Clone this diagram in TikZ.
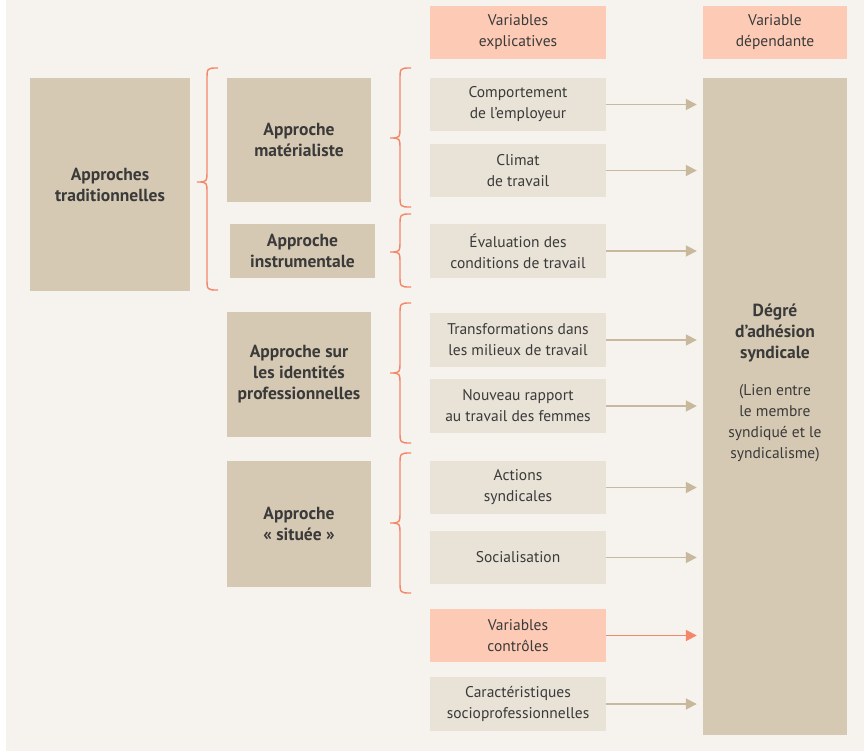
\documentclass[tikz,border=0pt]{standalone}
\usepackage{fontspec}
\setmainfont{PT Sans}
\usetikzlibrary{arrows.meta}
\definecolor{fond}{HTML}{F6F3EE}
\definecolor{tanfonce}{HTML}{D6C9B3}
\definecolor{beige}{HTML}{E8E2D7}
\definecolor{saumon}{HTML}{FDCBB5}
\definecolor{flechetan}{HTML}{C8B99E}
\definecolor{corail}{HTML}{F4876A}
\definecolor{texte}{HTML}{3A3A3A}
\newcommand{\policegras}{\bfseries\fontsize{17.5}{21}\selectfont}
\newcommand{\policetexte}{\mdseries\fontsize{15.5}{21}\selectfont}
\tikzset{
  approche/.style={fill=tanfonce, text=texte, inner sep=0pt, align=center,
    font=\policegras, minimum width=144pt},
  varbox/.style={fill=beige, text=texte, inner sep=0pt, align=center,
    font=\policetexte, minimum width=176pt, minimum height=53pt},
  entete/.style={varbox, fill=saumon},
  fleche/.style={-{Triangle[length=11pt,width=11pt]}, line width=1.8pt,
    draw=flechetan, shorten >=6pt},
  accolade/.style={draw=corail, line width=1.4pt}
}
% accolade: x de la pointe, haut, milieu, bas
\newcommand{\accolade}[4]{%
  \draw[accolade] ({#1+21},#2) .. controls ({#1+10},#2) .. ({#1+10},{#2+12})
    -- ({#1+10},{#3-12}) .. controls ({#1+10},#3) .. (#1,#3)
    .. controls ({#1+10},#3) .. ({#1+10},{#3+12})
    -- ({#1+10},{#4-12}) .. controls ({#1+10},#4) .. ({#1+21},#4);}
\begin{document}
\begin{tikzpicture}[x=1pt,y=-1pt]
\useasboundingbox (0,0) rectangle (864,751);
\fill[fond] (6,0) rectangle (864,751);

% approches
\node[approche, minimum width=160pt, minimum height=213pt] (trad) at (110,184.5) {Approches\\traditionnelles};
\node[approche, minimum height=124pt] (mat) at (299,140) {Approche\\matérialiste};
\node[approche, minimum width=145pt, minimum height=54pt] (instr) at (302.5,251) {Approche\\instrumentale};
\node[approche, minimum height=125pt] (ident) at (299,374.5) {Approche sur\\les identités\\professionnelles};
\node[approche, minimum height=126pt] (situee) at (299,524) {Approche\\«~située~»};

% variables
\node[entete] (hexp) at (518,32.5) {Variables\\explicatives};
\node[entete, minimum width=144pt] (hdep) at (775,32.5) {Variable\\dépendante};
\node[varbox] (comp) at (518,104.5) {Comportement\\de l’employeur};
\node[varbox] (climat) at (518,170.5) {Climat\\de travail};
\node[varbox, minimum height=54pt] (eval) at (518,251) {Évaluation des\\conditions de travail};
\node[varbox, minimum height=54pt] (transf) at (518,340) {Transformations dans\\les milieux de travail};
\node[varbox, minimum height=54pt] (nouveau) at (518,406) {Nouveau rapport\\au travail des femmes};
\node[varbox] (actions) at (518,487.5) {Actions\\syndicales};
\node[varbox] (social) at (518,557.5) {Socialisation};
\node[entete] (controles) at (518,635.5) {Variables\\contrôles};
\node[varbox, minimum height=54pt] (caract) at (518,704) {Caractéristiques\\socioprofessionnelles};

% variable dependante
\node[fill=tanfonce, minimum width=144pt, minimum height=657pt, inner sep=0pt] (deg) at (775,406.5) {};
\node[text=texte, align=center, font=\policegras] (degtxt) at (775,383)
  {Dégré\\d’adhésion\\syndicale\\[16pt]\policetexte(Lien entre\\\policetexte le membre\\\policetexte syndiqué et le\\\policetexte syndicalisme)};

% fleches
\foreach \v in {comp,climat,eval,transf,nouveau,actions,social,caract}
  \draw[fleche] (\v.east) -- (\v.east -| deg.west);
\draw[fleche, draw=corail] (controles.east) -- (controles.east -| deg.west);

% accolades
\accolade{197}{68}{182}{290}
\accolade{390}{68}{138}{207}
\accolade{390}{214}{252}{287}
\accolade{390}{303}{373}{443}
\accolade{390}{453}{523}{593}
\end{tikzpicture}
\end{document}
